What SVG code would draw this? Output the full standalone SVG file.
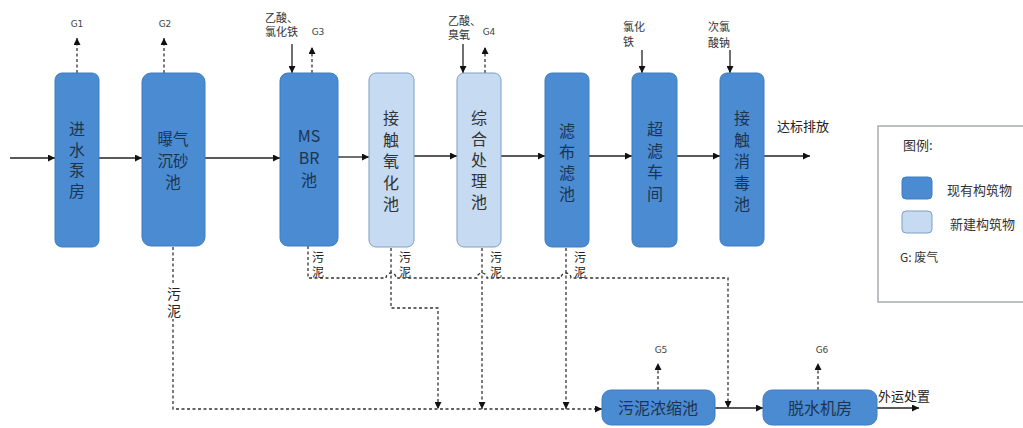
<svg xmlns="http://www.w3.org/2000/svg" width="1023" height="428" viewBox="0 0 1023 428">
<defs>
<marker id="arr" viewBox="0 0 10 10" refX="10" refY="5" markerWidth="8" markerHeight="7" markerUnits="userSpaceOnUse" orient="auto"><path d="M0,0 L10,5 L0,10 z" fill="#111"/></marker>
<style>
text{font-family:"Noto Sans CJK SC","Noto Sans",sans-serif;}
.dk{fill:#4a8bd2;stroke:#3e7dc1;stroke-width:1;}
.lt{fill:#c6daf1;stroke:#7f9fc4;stroke-width:1;}
.bl{font-size:16px;fill:#1d3550;text-anchor:middle;}
.bl2{font-size:16px;fill:#333;text-anchor:middle;}
.v{writing-mode:vertical-rl;}
.flow{stroke:#222;stroke-width:1.3;fill:none;}
.dash{stroke:#333;stroke-width:1.3;fill:none;stroke-dasharray:3 2.5;}
.sm{font-size:11px;fill:#333;}
.g{font-size:9px;fill:#444;text-anchor:middle;font-family:"DejaVu Sans",sans-serif;}
.lab{font-size:12px;fill:#222;text-anchor:middle;letter-spacing:3px;}
</style>
</defs>
<rect width="1023" height="428" fill="#fff"/>

<g id="connectors">
<path class="flow" d="M10,158 H55" marker-end="url(#arr)"/>
<path class="flow" d="M99,158 H142" marker-end="url(#arr)"/>
<path class="flow" d="M205,158 H280" marker-end="url(#arr)"/>
<path class="flow" d="M338,157 H369" marker-end="url(#arr)"/>
<path class="flow" d="M414,156 H457" marker-end="url(#arr)"/>
<path class="flow" d="M501,156 H545" marker-end="url(#arr)"/>
<path class="flow" d="M589,156 H632" marker-end="url(#arr)"/>
<path class="flow" d="M677,156 H720" marker-end="url(#arr)"/>
<path class="flow" d="M764,156 H810" marker-end="url(#arr)"/>
<path class="flow" d="M292,44 V73" marker-end="url(#arr)"/>
<path class="flow" d="M463,44 V73" marker-end="url(#arr)"/>
<path class="flow" d="M642,50 V73" marker-end="url(#arr)"/>
<path class="flow" d="M730,50 V73" marker-end="url(#arr)"/>
<path class="dash" d="M77,73 V38" marker-end="url(#arr)"/>
<path class="dash" d="M164,73 V38" marker-end="url(#arr)"/>
<path class="dash" d="M312,73 V47" marker-end="url(#arr)"/>
<path class="dash" d="M485,73 V47" marker-end="url(#arr)"/>
<path class="dash" d="M658,390 V363" marker-end="url(#arr)"/>
<path class="dash" d="M818,390 V363" marker-end="url(#arr)"/>
<path class="dash" d="M173,247 V409 H602" marker-end="url(#arr)"/>
<path class="dash" d="M308,246 V278 H386 a5,5 0 0 1 10,0 H477 a5,5 0 0 1 10,0 H561 a5,5 0 0 1 10,0 H728 V408" marker-end="url(#arr)"/>
<path class="dash" d="M391,248 V308 H438 V409" marker-end="url(#arr)"/>
<path class="dash" d="M482,248 V409" marker-end="url(#arr)"/>
<path class="dash" d="M566,248 V409" marker-end="url(#arr)"/>
<path class="flow" d="M715,408 H763" marker-end="url(#arr)"/>
<path class="flow" d="M877,408 H919" marker-end="url(#arr)"/>
</g>

<g id="n1"><rect class="dk" x="55" y="73" width="44" height="174" rx="7"/>
<text class="bl v" x="77" y="162" style="letter-spacing:4.5px">进水泵房</text></g>
<g id="n2"><rect class="dk" x="142" y="73" width="63" height="173" rx="9"/>
<text class="bl" x="173" y="145" style="font-size:15.5px"><tspan x="173">曝气</tspan><tspan x="173" dy="21.5">沉砂</tspan><tspan x="173" dy="21.5">池</tspan></text></g>
<g id="n3"><rect class="dk" x="280" y="73" width="58" height="173" rx="8"/>
<text class="bl" x="309" y="142"><tspan x="309">MS</tspan><tspan x="309" dy="22">BR</tspan><tspan x="309" dy="22">池</tspan></text></g>
<g id="n4"><rect class="lt" x="369" y="73" width="45" height="174" rx="7"/>
<text class="bl2 v" x="391" y="164" style="letter-spacing:5.5px">接触氧化池</text></g>
<g id="n5"><rect class="lt" x="457" y="73" width="44" height="174" rx="7"/>
<text class="bl2 v" x="479" y="162" style="letter-spacing:5px">综合处理池</text></g>
<g id="n6"><rect class="dk" x="545" y="73" width="44" height="174" rx="7"/>
<text class="bl v" x="567" y="165" style="letter-spacing:5px">滤布滤池</text></g>
<g id="n7"><rect class="dk" x="632" y="73" width="45" height="174" rx="7"/>
<text class="bl v" x="655" y="164" style="letter-spacing:5.5px">超滤车间</text></g>
<g id="n8"><rect class="dk" x="720" y="73" width="44" height="173" rx="7"/>
<text class="bl v" x="742" y="164" style="letter-spacing:5.5px">接触消毒池</text></g>
<g id="n9"><rect class="dk" x="602" y="390" width="113" height="35" rx="9"/>
<text class="bl" x="658" y="414">污泥浓缩池</text></g>
<g id="n10"><rect class="dk" x="763" y="390" width="114" height="35" rx="9"/>
<text class="bl" x="820" y="414">脱水机房</text></g>

<g id="labels">
<text class="sm" x="265" y="22"><tspan x="265">乙酸、</tspan><tspan x="265" dy="14">氯化铁</tspan></text>
<text class="g" x="318" y="35">G3</text>
<text class="sm" x="448" y="25"><tspan x="448">乙酸、</tspan><tspan x="448" dy="14">臭氧</tspan></text>
<text class="g" x="489" y="35">G4</text>
<text class="sm" x="623" y="31"><tspan x="623">氯化</tspan><tspan x="623" dy="15">铁</tspan></text>
<text class="sm" x="708" y="31"><tspan x="708">次氯</tspan><tspan x="708" dy="16">酸钠</tspan></text>
<text class="g" x="77" y="27">G1</text>
<text class="g" x="165" y="27">G2</text>
<text class="g" x="661" y="353">G5</text>
<text class="g" x="822" y="353">G6</text>
<text x="777" y="131" style="font-size:13px;fill:#222;">达标排放</text>
<text x="878" y="401" style="font-size:13px;fill:#222;">外运处置</text>
<rect x="166" y="285" width="15" height="34" fill="#fff"/>
<text class="lab v" x="174" y="304" style="font-size:14px">污泥</text>
<text class="lab v" x="318" y="266">污泥</text>
<text class="lab v" x="405" y="266">污泥</text>
<text class="lab v" x="496" y="266">污泥</text>
<text class="lab v" x="580" y="266">污泥</text>
</g>

<g id="legend">
<rect x="878" y="126" width="160" height="176" fill="#fff" stroke="#a8adb3" stroke-width="1.5"/>
<text x="903" y="150" style="font-size:13px;fill:#333;">图例:</text>
<rect class="dk" x="902" y="177" width="30" height="22" rx="4"/>
<text x="947" y="195" style="font-size:13px;fill:#333;">现有构筑物</text>
<rect class="lt" x="902" y="211" width="30" height="22" rx="4"/>
<text x="950" y="229" style="font-size:13px;fill:#333;">新建构筑物</text>
<text x="900" y="262" style="font-size:12px;fill:#333;">G: 废气</text>
</g>
</svg>
